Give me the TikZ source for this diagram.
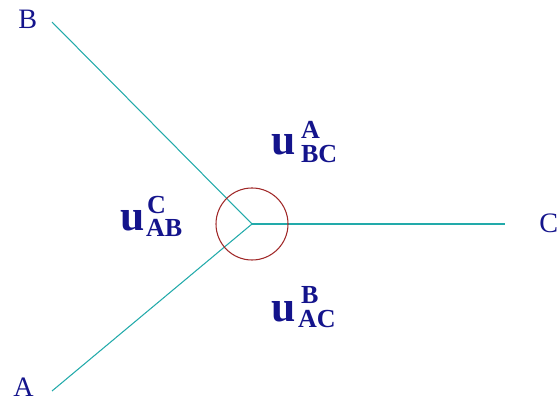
\documentclass[tikz,border=0pt]{standalone}
\usepackage{fontspec}
\setmainfont{Liberation Serif}
\usetikzlibrary{positioning, calc}
\definecolor{lblNavy}{HTML}{14148C}
\definecolor{lnTeal}{HTML}{22AAAA}
\definecolor{crRed}{HTML}{A02828}
\tikzset{
  pt/.style={font=\fontsize{20}{20}\selectfont, text=lblNavy, inner sep=0pt, text depth=0pt, anchor=base west},
  ubig/.style={font=\fontsize{31}{31}\selectfont\bfseries, text=lblNavy, inner sep=0pt, anchor=base west},
  uidx/.style={font=\fontsize{18.5}{18.5}\selectfont\bfseries, text=lblNavy, inner sep=0pt,
    text height=0.67em, text depth=0pt, anchor=base west},
  leg/.style={draw=lnTeal, line width=0.75pt},
  ring/.style={draw=crRed, line width=0.75pt, circle, inner sep=0pt, minimum size=1.8cm},
}

\begin{document}
\begin{tikzpicture}[x=0.025cm, y=-0.025cm]
\useasboundingbox (0,0) rectangle (560,400);

% ── junction and leg ends ────────────────────────────────────────────────────
\coordinate (O) at (252, 224);
\coordinate (endB) at (52, 22);
\coordinate (endA) at (52, 391);
\coordinate (endC) at (505, 224);

% ── the three legs ───────────────────────────────────────────────────────────
\draw[leg] (O) -- (endB);
\draw[leg] (O) -- (endA);
\draw[leg] (O) -- (endC);

% circle round the junction
\node[ring] (ring) at (O) {};

% ── point labels ─────────────────────────────────────────────────────────────
\node[pt] (lblB) at (18, 29) {B};
\node[pt] (lblA) at (13, 396) {A};
\node[pt] (lblC) at (539, 233) {C};

% ── sector labels ────────────────────────────────────────────────────────────
% u_AB^C (left sector)
\node[ubig] (uAB) at (120, 231) {u};
\node[uidx] at ($(uAB.base east)+(2,-17)$) {C};
\node[uidx] at ($(uAB.base east)+(1,6)$) {AB};
% u_BC^A (upper sector)
\node[ubig] (uBC) at (271, 155) {u};
\node[uidx] at ($(uBC.base east)+(5,-16)$) {A};
\node[uidx] at ($(uBC.base east)+(5,8)$) {BC};
% u_AC^B (lower sector)
\node[ubig] (uAC) at (271, 322) {u};
\node[uidx] at ($(uAC.base east)+(5,-18)$) {B};
\node[uidx] at ($(uAC.base east)+(2,5)$) {AC};

\end{tikzpicture}
\end{document}
